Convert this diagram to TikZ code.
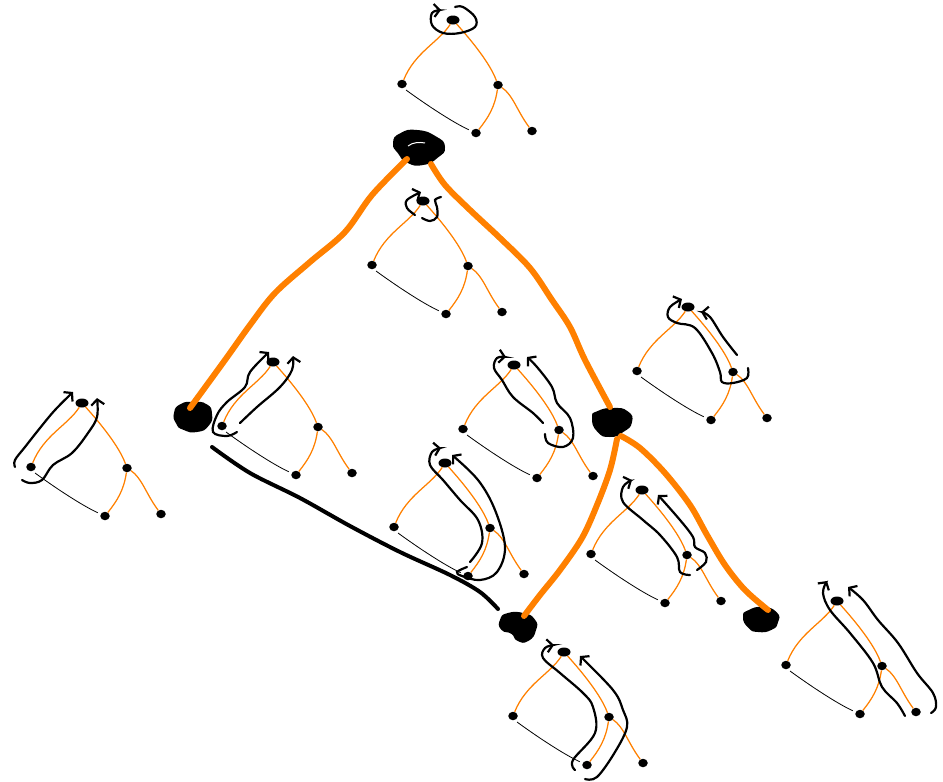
\documentclass[tikz,border=0pt]{standalone}
\usepackage{tikz}
\usetikzlibrary{arrows.meta}
\usetikzlibrary{shapes.geometric}
\tikzset{>={Straight Barb[length=5.5pt,width=13pt]}}
\definecolor{branch}{HTML}{FF8000}
\tikzset{
    treedot/.style={ellipse, fill=black, inner sep=0pt, minimum width=9.5pt, minimum height=8.5pt},
    rootdot/.style={treedot, minimum width=13pt, minimum height=9pt},
    twig/.style={branch, line width=1.25pt},
    sibling/.style={black, line width=0.8pt, shorten >=3pt},
    walk/.style={black, line width=2.2pt, line cap=round, smooth, tension=0.6},
    limb/.style={branch, line width=6pt, line cap=round, smooth, tension=0.55},
    blob/.style={black, fill=black, line width=2pt, smooth cycle, tension=1},
    minitree/.pic={
        \node[rootdot] (root) at (0, 0) {};
        \node[treedot] (left) at (-51, 64) {};
        \node[treedot] (right) at (45, 65) {};
        \node[treedot] (mid) at (23, 113) {};
        \node[treedot] (far) at (79, 111) {};
        \draw[twig] (root) .. controls +(-14, 22) and +(13, -32) .. (left);
        \draw[twig] (root) .. controls +(18, 20) and +(-8, -22) .. (right);
        \draw[twig] (right) .. controls +(-3, 22) and +(12, -15) .. (mid);
        \draw[twig] (right) .. controls +(15, 10) and +(-15, -20) .. (far);
        \draw[sibling] ([shift={(4, 6)}]left.center) .. controls +(22, 16) and +(-22, -10) .. (mid);
    }
}

\begin{document}
\begin{tikzpicture}[x=1pt, y=-1pt]
    \useasboundingbox (0, 0) rectangle (943, 782);
    \foreach \n/\x/\y in {top/453/20, inner/423/201, outer/82/403, nearb/273/362, mida/514/365, midb/445/463, nearc/688/307, lowc/642/490, lowd/564/652, lowe/837/601}
        \pic (\n) at (\x, \y) {minitree};

    \draw[walk, ->] plot coordinates {(455,7) (463,7) (475,17) (475,27) (460,33) (443,33) (432,25) (432,13) (441,10)};
    \draw[walk, ->] plot coordinates {(415,215) (407,208) (407,200) (421,192)};
    \draw[walk] plot coordinates {(422,218) (430,221) (437,217) (437,207) (435,200) (441,197)};
    \draw[walk, ->] plot coordinates {(15,467) (15,460) (25,447) (40,428) (55,410) (73,392)};
    \draw[walk, ->] plot coordinates {(22,480) (30,483) (42,480) (53,465) (72,453) (88,433) (97,417) (97,398)};
    \draw[walk, ->] plot coordinates {(237,432) (227,436) (213,432) (217,415) (227,402) (245,387) (250,372) (269,352)};
    \draw[walk, ->] plot coordinates {(240,423) (257,407) (280,387) (292,370) (293,356)};
    \draw[walk, ->] plot coordinates {(543,423) (533,413) (513,397) (502,380) (494,368) (497,358) (506,357)};
    \draw[walk, ->] plot coordinates {(545,434) (548,443) (563,447) (573,438) (570,418) (557,403) (552,387) (537,367) (527,357)};
    \draw[walk, ->] plot coordinates {(470,562) (482,543) (478,520) (460,500) (443,480) (430,465) (432,452) (441,448)};
    \draw[walk, ->] plot coordinates {(467,567) (457,572) (462,576) (480,580) (497,572) (505,547) (495,510) (478,480) (452,455)};
    \draw[walk, ->] plot coordinates {(748,368) (747,378) (733,383) (722,382) (720,372) (712,353) (695,328) (677,323) (668,317) (670,307) (682,299)};
    \draw[walk, ->] plot coordinates {(737,355) (723,337) (710,317) (701,312)};
    \draw[walk, ->] plot coordinates {(690,575) (680,572) (677,557) (660,535) (643,520) (623,502) (623,487) (632,480)};
    \draw[walk, ->] plot coordinates {(697,570) (706,562) (705,553) (695,547) (693,537) (680,520) (658,495)};
    \draw[walk, ->] plot coordinates {(575,770) (573,760) (595,733) (593,707) (583,693) (560,673) (543,658) (545,648) (554,645)};
    \draw[walk, ->] plot coordinates {(585,779) (597,777) (615,752) (627,727) (623,710) (613,690) (580,656)};
    \draw[walk, ->] plot coordinates {(905,716) (897,703) (882,687) (873,663) (850,633) (830,610) (823,593) (827,581)};
    \draw[walk, ->] plot coordinates {(931,713) (936,707) (933,693) (917,673) (898,643) (878,620) (863,600) (848,587)};

    \draw[blob] plot coordinates {(394,143) (401,134) (417,131) (435,137) (444,147) (437,157) (423,164) (408,162) (399,153)};
    \draw[blob] plot coordinates {(175,413) (181,405) (193,403) (206,405) (211,414) (208,425) (197,431) (184,429) (177,423)};
    \draw[blob] plot coordinates {(593,418) (598,412) (613,409) (627,412) (631,422) (623,431) (610,436) (598,431)};
    \draw[blob] plot coordinates {(501,620) (508,614) (523,614) (534,620) (535,630) (528,640) (518,640) (512,633) (502,629)};
    \draw[blob] plot coordinates {(744,617) (749,611) (763,608) (776,613) (777,622) (771,629) (758,631) (749,627)};
    \draw[white, line width=1pt] (408,146) .. controls (413,142) and (420,142) .. (425,143);

    \coordinate (stateA) at (407,159);
    \coordinate (stateAb) at (431,164);
    \coordinate (stateB) at (190,408);
    \coordinate (stateC) at (610,407);
    \coordinate (stateCb) at (617,439);
    \coordinate (stateCc) at (621,436);
    \coordinate (stateD) at (524,616);
    \coordinate (stateE) at (768,610);
    \coordinate (stateBb) at (212,447);
    \coordinate (stateDb) at (498,609);

    \draw[limb] plot coordinates {(stateA) (372,195) (345,232) (310,262) (275,293) (250,325) (225,360) (stateB)};
    \draw[limb] plot coordinates {(stateAb) (445,185) (470,210) (500,238) (530,268) (552,300) (570,327) (585,360) (stateC)};
    \draw[limb] plot coordinates {(stateCb) (610,470) (597,505) (582,538) (560,570) (540,595) (stateD)};
    \draw[limb] plot coordinates {(stateCc) (640,448) (665,473) (690,505) (707,535) (725,565) (745,590) (stateE)};
    \draw[black, line width=4pt, line cap=round, smooth, tension=0.55] plot coordinates {(stateBb) (250,473) (300,498) (350,526) (400,552) (450,575) (480,592) (stateDb)};
\end{tikzpicture}
\end{document}
